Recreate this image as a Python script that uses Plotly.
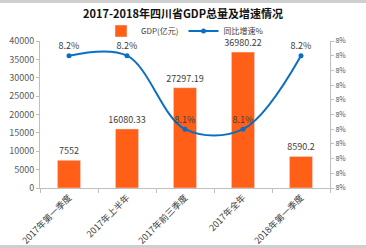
import plotly.graph_objects as go

categories = ["2017年第一季度", "2017年上半年", "2017年前三季度", "2017年全年", "2018年第一季度"]
gdp = [7552, 16080.33, 27297.19, 36980.22, 8590.2]
gdp_labels = ["7552", "16080.33", "27297.19", "36980.22", "8590.2"]
growth = [8.2, 8.2, 8.1, 8.1, 8.2]
growth_labels = ["8.2%", "8.2%", "8.1%", "8.1%", "8.2%"]
left_ticks = [0, 5000, 10000, 15000, 20000, 25000, 30000, 35000, 40000]
right_ticks = [8.02, 8.04, 8.06, 8.08, 8.10, 8.12, 8.14, 8.16, 8.18, 8.20, 8.22]

FONT = "Noto Sans CJK SC"
TXT = "#404040"
PH = 147.0  # plot height in px

fig = go.Figure()
fig.add_trace(go.Bar(
    x=categories, y=gdp, name="GDP(亿元)", marker_color="#FF5F17",
    width=0.4, text=gdp_labels, textposition="outside", constraintext="none",
    textfont=dict(size=9, color=TXT), cliponaxis=False,
))
fig.add_trace(go.Scatter(
    x=categories, y=growth, name="同比增速%", yaxis="y2",
    mode="lines+markers+text", line=dict(color="#0A6FC2", width=2, shape="spline", smoothing=1.0),
    marker=dict(size=5, color="#0A6FC2"), text=growth_labels,
    textposition="top center", textfont=dict(size=9, color=TXT), cliponaxis=False,
))

fig.update_layout(
    width=366, height=248,
    margin=dict(l=40, r=36, t=41, b=60, autoexpand=False),
    paper_bgcolor="white", plot_bgcolor="white",
    font=dict(family=FONT, size=9, color=TXT),
    title=dict(text="<b>2017-2018年四川省GDP总量及增速情况</b>", x=0.5, xanchor="center",
               y=1 - 14/248, yanchor="middle", font=dict(size=11, color="#111111")),
    legend=dict(orientation="h", x=0.5, xanchor="center", y=1 + (41 - 31)/PH, yref="paper",
                yanchor="middle", font=dict(size=8, color=TXT), bgcolor="rgba(0,0,0,0)",
                tracegroupgap=0),
    showlegend=True,
    xaxis=dict(tickangle=-45, showline=True, linecolor="#BFBFBF", linewidth=1,
               ticks="outside", tickcolor="#BFBFBF", ticklen=4, tickson="boundaries",
               tickfont=dict(size=9, color=TXT), showgrid=False, automargin=False),
    yaxis=dict(range=[0, 40000], tickvals=left_ticks, tickformat="d", showline=True, linecolor="#BFBFBF",
               ticks="outside", tickcolor="#BFBFBF", ticklen=3, showgrid=False, automargin=False,
               zeroline=False, tickfont=dict(size=9, color="#595959")),
    yaxis2=dict(overlaying="y", side="right", range=[8.02, 8.22], tickvals=right_ticks,
                ticktext=["8%"] * len(right_ticks), showline=True, linecolor="#BFBFBF",
                ticks="outside", tickcolor="#BFBFBF", ticklen=3, showgrid=False, automargin=False,
                zeroline=False, tickfont=dict(size=7, color="#595959")),
    shapes=[
        dict(type="rect", xref="paper", yref="paper", x0=-0.2, x1=1.2, y0=1 + 41/PH, y1=1 + 38/PH,
             fillcolor="#CFCFCF", line_width=0, layer="above"),
        dict(type="rect", xref="paper", yref="paper", x0=-0.2, x1=1.2, y0=-60/PH, y1=-57/PH,
             fillcolor="#CFCFCF", line_width=0, layer="above"),
    ],
)

fig.write_html("out.html")
